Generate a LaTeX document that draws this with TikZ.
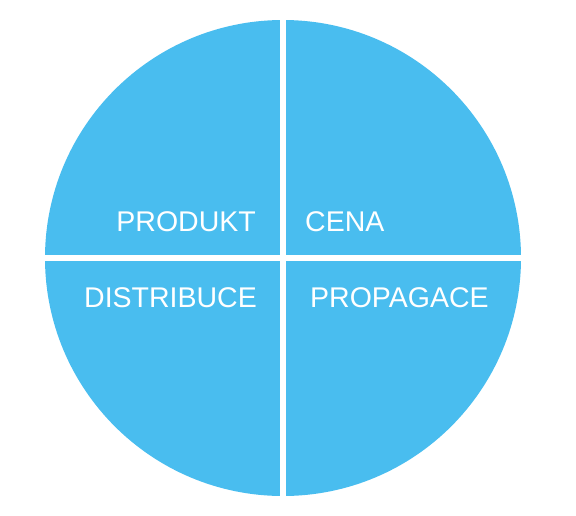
\documentclass[tikz,border=0pt]{standalone}
\usepackage{fontspec}
\setmainfont{Liberation Sans}
\usepackage{xcolor}
\definecolor{disc}{HTML}{49BDEF}

\begin{document}
\begin{tikzpicture}[x=1pt, y=-1pt, every node/.style={font=\fontsize{28.5}{28.5}\selectfont, text=white, inner sep=0pt}]
    \useasboundingbox (0,0) rectangle (576,515);
    \fill[disc] (283,258) circle (238);
    % gaps between the four parts
    \fill[white] (280,15) rectangle (286,500);
    \fill[white] (40,255) rectangle (528,261);
    \node[anchor=base east] (produkt) at (256,231.5) {PRODUKT};
    \node[anchor=base west] (cena) at (305,231.5) {CENA};
    \node[anchor=base east] (distribuce) at (257,307) {DISTRIBUCE};
    \node[anchor=base west] (propagace) at (310,307) {PROPAGACE};
\end{tikzpicture}
\end{document}
